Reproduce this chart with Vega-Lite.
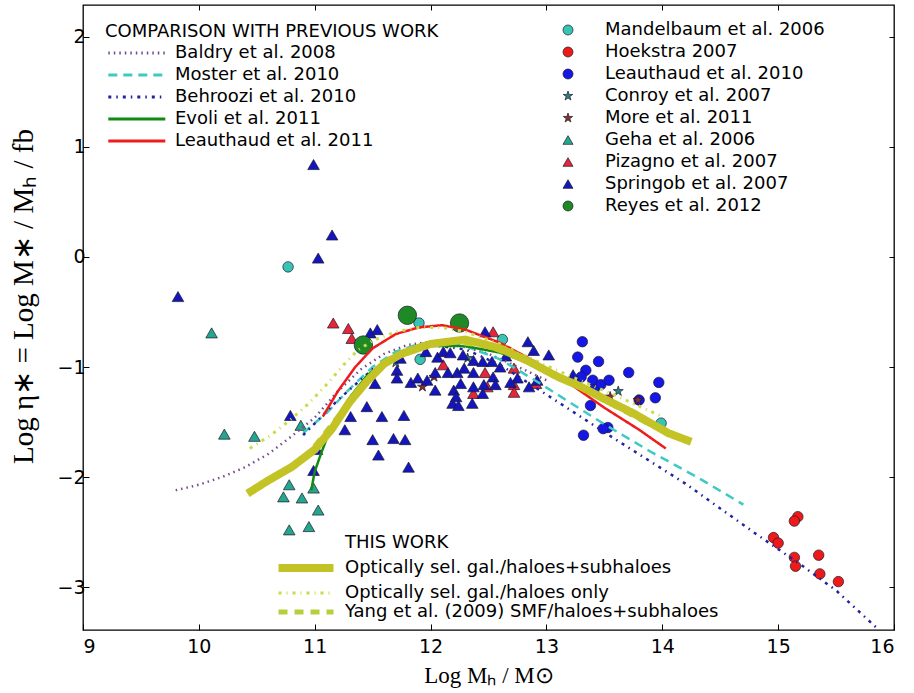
{
  "$schema": "https://vega.github.io/schema/vega-lite/v6.json",
  "autosize": {"type": "none"},
  "padding": {"left": 83, "top": 5, "right": 20, "bottom": 63},
  "width": 811,
  "height": 625,
  "background": "white",
  "config": {
    "view": {"stroke": "black", "strokeWidth": 1.3},
    "font": "DejaVu Sans",
    "axis": {"grid": false, "domain": false, "labelFont": "DejaVu Sans", "labelFontSize": 19, "labelColor": "black", "tickColor": "black", "tickSize": -6, "titleFont": "Liberation Serif", "titleFontSize": 23, "titleFontWeight": "normal", "titleColor": "black"},
    "legend": {"labelFont": "DejaVu Sans", "titleFont": "DejaVu Sans", "labelFontSize": 18, "titleFontSize": 18, "titleFontWeight": "normal", "labelColor": "black", "titleColor": "black", "labelLimit": 0, "titleLimit": 0, "padding": 0}
  },
  "datasets": {
    "comp": [
      {"s": "Baldry et al. 2008", "x": 9.8, "y": -2.12},
      {"s": "Baldry et al. 2008", "x": 10.0, "y": -2.07},
      {"s": "Baldry et al. 2008", "x": 10.2, "y": -2.0},
      {"s": "Baldry et al. 2008", "x": 10.4, "y": -1.91},
      {"s": "Baldry et al. 2008", "x": 10.6, "y": -1.79},
      {"s": "Baldry et al. 2008", "x": 10.8, "y": -1.63},
      {"s": "Baldry et al. 2008", "x": 11.0, "y": -1.46},
      {"s": "Baldry et al. 2008", "x": 11.2, "y": -1.22},
      {"s": "Baldry et al. 2008", "x": 11.4, "y": -1.02},
      {"s": "Baldry et al. 2008", "x": 11.6, "y": -0.88},
      {"s": "Baldry et al. 2008", "x": 11.8, "y": -0.8},
      {"s": "Baldry et al. 2008", "x": 12.0, "y": -0.77},
      {"s": "Baldry et al. 2008", "x": 12.2, "y": -0.79},
      {"s": "Baldry et al. 2008", "x": 12.5, "y": -0.88},
      {"s": "Baldry et al. 2008", "x": 12.8, "y": -1.02},
      {"s": "Baldry et al. 2008", "x": 13.0, "y": -1.12},
      {"s": "Moster et al. 2010", "x": 10.9, "y": -1.6},
      {"s": "Moster et al. 2010", "x": 11.1, "y": -1.42},
      {"s": "Moster et al. 2010", "x": 11.3, "y": -1.2},
      {"s": "Moster et al. 2010", "x": 11.5, "y": -1.0},
      {"s": "Moster et al. 2010", "x": 11.7, "y": -0.86},
      {"s": "Moster et al. 2010", "x": 11.9, "y": -0.79},
      {"s": "Moster et al. 2010", "x": 12.1, "y": -0.78},
      {"s": "Moster et al. 2010", "x": 12.3, "y": -0.81},
      {"s": "Moster et al. 2010", "x": 12.6, "y": -0.93},
      {"s": "Moster et al. 2010", "x": 12.9, "y": -1.12},
      {"s": "Moster et al. 2010", "x": 13.2, "y": -1.32},
      {"s": "Moster et al. 2010", "x": 13.5, "y": -1.52},
      {"s": "Moster et al. 2010", "x": 13.9, "y": -1.77},
      {"s": "Moster et al. 2010", "x": 14.3, "y": -2.0},
      {"s": "Moster et al. 2010", "x": 14.7, "y": -2.25},
      {"s": "Behroozi et al. 2010", "x": 10.9, "y": -1.62},
      {"s": "Behroozi et al. 2010", "x": 11.2, "y": -1.3},
      {"s": "Behroozi et al. 2010", "x": 11.5, "y": -1.02},
      {"s": "Behroozi et al. 2010", "x": 11.8, "y": -0.85},
      {"s": "Behroozi et al. 2010", "x": 12.0, "y": -0.8},
      {"s": "Behroozi et al. 2010", "x": 12.3, "y": -0.84},
      {"s": "Behroozi et al. 2010", "x": 12.6, "y": -0.98},
      {"s": "Behroozi et al. 2010", "x": 13.0, "y": -1.25},
      {"s": "Behroozi et al. 2010", "x": 13.6, "y": -1.66},
      {"s": "Behroozi et al. 2010", "x": 14.2, "y": -2.06},
      {"s": "Behroozi et al. 2010", "x": 14.8, "y": -2.51},
      {"s": "Behroozi et al. 2010", "x": 15.2, "y": -2.8},
      {"s": "Behroozi et al. 2010", "x": 15.5, "y": -3.03},
      {"s": "Behroozi et al. 2010", "x": 15.85, "y": -3.37},
      {"s": "Evoli et al. 2011", "x": 10.97, "y": -2.12},
      {"s": "Evoli et al. 2011", "x": 11.0, "y": -1.95},
      {"s": "Evoli et al. 2011", "x": 11.05, "y": -1.8},
      {"s": "Evoli et al. 2011", "x": 11.1, "y": -1.66},
      {"s": "Evoli et al. 2011", "x": 11.2, "y": -1.45},
      {"s": "Evoli et al. 2011", "x": 11.3, "y": -1.28},
      {"s": "Evoli et al. 2011", "x": 11.45, "y": -1.08},
      {"s": "Evoli et al. 2011", "x": 11.6, "y": -0.95},
      {"s": "Evoli et al. 2011", "x": 11.8, "y": -0.85},
      {"s": "Evoli et al. 2011", "x": 12.0, "y": -0.81},
      {"s": "Evoli et al. 2011", "x": 12.3, "y": -0.81},
      {"s": "Evoli et al. 2011", "x": 12.6, "y": -0.87},
      {"s": "Evoli et al. 2011", "x": 12.9, "y": -0.98},
      {"s": "Evoli et al. 2011", "x": 13.2, "y": -1.12},
      {"s": "Leauthaud et al. 2011", "x": 11.07, "y": -1.45},
      {"s": "Leauthaud et al. 2011", "x": 11.2, "y": -1.22},
      {"s": "Leauthaud et al. 2011", "x": 11.35, "y": -1.0},
      {"s": "Leauthaud et al. 2011", "x": 11.5, "y": -0.83},
      {"s": "Leauthaud et al. 2011", "x": 11.7, "y": -0.7},
      {"s": "Leauthaud et al. 2011", "x": 11.9, "y": -0.64},
      {"s": "Leauthaud et al. 2011", "x": 12.1, "y": -0.62},
      {"s": "Leauthaud et al. 2011", "x": 12.3, "y": -0.66},
      {"s": "Leauthaud et al. 2011", "x": 12.6, "y": -0.78},
      {"s": "Leauthaud et al. 2011", "x": 12.9, "y": -0.95},
      {"s": "Leauthaud et al. 2011", "x": 13.2, "y": -1.15},
      {"s": "Leauthaud et al. 2011", "x": 13.5, "y": -1.37},
      {"s": "Leauthaud et al. 2011", "x": 13.8, "y": -1.57},
      {"s": "Leauthaud et al. 2011", "x": 14.03, "y": -1.74}
    ],
    "mine": [
      {"s": "Optically sel. gal./haloes only", "x": 10.44, "y": -1.74},
      {"s": "Optically sel. gal./haloes only", "x": 10.62, "y": -1.62},
      {"s": "Optically sel. gal./haloes only", "x": 10.79, "y": -1.48},
      {"s": "Optically sel. gal./haloes only", "x": 10.96, "y": -1.32},
      {"s": "Optically sel. gal./haloes only", "x": 11.11, "y": -1.15},
      {"s": "Optically sel. gal./haloes only", "x": 11.25, "y": -0.98},
      {"s": "Optically sel. gal./haloes only", "x": 11.37, "y": -0.85},
      {"s": "Optically sel. gal./haloes only", "x": 11.5, "y": -0.76},
      {"s": "Optically sel. gal./haloes only", "x": 11.7, "y": -0.68},
      {"s": "Optically sel. gal./haloes only", "x": 11.9, "y": -0.64},
      {"s": "Optically sel. gal./haloes only", "x": 12.1, "y": -0.64},
      {"s": "Optically sel. gal./haloes only", "x": 12.3, "y": -0.68},
      {"s": "Optically sel. gal./haloes only", "x": 12.6, "y": -0.79},
      {"s": "Optically sel. gal./haloes only", "x": 12.9, "y": -0.94},
      {"s": "Optically sel. gal./haloes only", "x": 13.2, "y": -1.08},
      {"s": "Optically sel. gal./haloes only", "x": 13.6, "y": -1.26},
      {"s": "Optically sel. gal./haloes only", "x": 14.0, "y": -1.45},
      {"s": "Yang et al. (2009) SMF/haloes+subhaloes", "x": 11.0, "y": -1.72},
      {"s": "Yang et al. (2009) SMF/haloes+subhaloes", "x": 11.3, "y": -1.32},
      {"s": "Yang et al. (2009) SMF/haloes+subhaloes", "x": 11.6, "y": -0.97},
      {"s": "Yang et al. (2009) SMF/haloes+subhaloes", "x": 11.9, "y": -0.81},
      {"s": "Yang et al. (2009) SMF/haloes+subhaloes", "x": 12.2, "y": -0.77},
      {"s": "Yang et al. (2009) SMF/haloes+subhaloes", "x": 12.5, "y": -0.81},
      {"s": "Yang et al. (2009) SMF/haloes+subhaloes", "x": 12.8, "y": -0.93},
      {"s": "Yang et al. (2009) SMF/haloes+subhaloes", "x": 13.2, "y": -1.13},
      {"s": "Yang et al. (2009) SMF/haloes+subhaloes", "x": 13.6, "y": -1.36},
      {"s": "Yang et al. (2009) SMF/haloes+subhaloes", "x": 14.0, "y": -1.58},
      {"s": "Optically sel. gal./haloes+subhaloes", "x": 10.42, "y": -2.15},
      {"s": "Optically sel. gal./haloes+subhaloes", "x": 10.6, "y": -2.03},
      {"s": "Optically sel. gal./haloes+subhaloes", "x": 10.8, "y": -1.91},
      {"s": "Optically sel. gal./haloes+subhaloes", "x": 11.0, "y": -1.75},
      {"s": "Optically sel. gal./haloes+subhaloes", "x": 11.15, "y": -1.56},
      {"s": "Optically sel. gal./haloes+subhaloes", "x": 11.3, "y": -1.32},
      {"s": "Optically sel. gal./haloes+subhaloes", "x": 11.45, "y": -1.13},
      {"s": "Optically sel. gal./haloes+subhaloes", "x": 11.6, "y": -0.97},
      {"s": "Optically sel. gal./haloes+subhaloes", "x": 11.75, "y": -0.88},
      {"s": "Optically sel. gal./haloes+subhaloes", "x": 12.0, "y": -0.79},
      {"s": "Optically sel. gal./haloes+subhaloes", "x": 12.3, "y": -0.75},
      {"s": "Optically sel. gal./haloes+subhaloes", "x": 12.6, "y": -0.83},
      {"s": "Optically sel. gal./haloes+subhaloes", "x": 12.85, "y": -0.95},
      {"s": "Optically sel. gal./haloes+subhaloes", "x": 13.1, "y": -1.09},
      {"s": "Optically sel. gal./haloes+subhaloes", "x": 13.3, "y": -1.18},
      {"s": "Optically sel. gal./haloes+subhaloes", "x": 13.5, "y": -1.29},
      {"s": "Optically sel. gal./haloes+subhaloes", "x": 13.75, "y": -1.42},
      {"s": "Optically sel. gal./haloes+subhaloes", "x": 14.05, "y": -1.6},
      {"s": "Optically sel. gal./haloes+subhaloes", "x": 14.25, "y": -1.68}
    ],
    "pts": [
      {"s": "Mandelbaum et al. 2006", "x": 10.77, "y": -0.09},
      {"s": "Mandelbaum et al. 2006", "x": 11.9, "y": -0.6},
      {"s": "Mandelbaum et al. 2006", "x": 11.91, "y": -0.93},
      {"s": "Mandelbaum et al. 2006", "x": 12.62, "y": -0.75},
      {"s": "Mandelbaum et al. 2006", "x": 13.99, "y": -1.51},
      {"s": "Hoekstra 2007", "x": 15.17, "y": -2.36},
      {"s": "Hoekstra 2007", "x": 15.14, "y": -2.4},
      {"s": "Hoekstra 2007", "x": 14.96, "y": -2.55},
      {"s": "Hoekstra 2007", "x": 15.0, "y": -2.6},
      {"s": "Hoekstra 2007", "x": 15.14, "y": -2.73},
      {"s": "Hoekstra 2007", "x": 15.15, "y": -2.81},
      {"s": "Hoekstra 2007", "x": 15.35, "y": -2.71},
      {"s": "Hoekstra 2007", "x": 15.36, "y": -2.88},
      {"s": "Hoekstra 2007", "x": 15.52, "y": -2.95},
      {"s": "Leauthaud et al. 2010", "x": 13.31, "y": -0.77},
      {"s": "Leauthaud et al. 2010", "x": 13.27, "y": -0.91},
      {"s": "Leauthaud et al. 2010", "x": 13.45, "y": -0.95},
      {"s": "Leauthaud et al. 2010", "x": 13.34, "y": -1.03},
      {"s": "Leauthaud et al. 2010", "x": 13.3, "y": -1.09},
      {"s": "Leauthaud et al. 2010", "x": 13.4, "y": -1.12},
      {"s": "Leauthaud et al. 2010", "x": 13.47, "y": -1.16},
      {"s": "Leauthaud et al. 2010", "x": 13.54, "y": -1.12},
      {"s": "Leauthaud et al. 2010", "x": 13.71, "y": -1.05},
      {"s": "Leauthaud et al. 2010", "x": 13.97, "y": -1.14},
      {"s": "Leauthaud et al. 2010", "x": 13.94, "y": -1.28},
      {"s": "Leauthaud et al. 2010", "x": 13.8, "y": -1.3},
      {"s": "Leauthaud et al. 2010", "x": 13.38, "y": -1.35},
      {"s": "Leauthaud et al. 2010", "x": 13.53, "y": -1.55},
      {"s": "Leauthaud et al. 2010", "x": 13.49, "y": -1.56},
      {"s": "Leauthaud et al. 2010", "x": 13.32, "y": -1.62},
      {"s": "Leauthaud et al. 2010", "x": 13.41, "y": -1.21},
      {"s": "Conroy et al. 2007", "x": 11.7, "y": -0.96},
      {"s": "Conroy et al. 2007", "x": 12.32, "y": -0.92},
      {"s": "Conroy et al. 2007", "x": 13.62, "y": -1.22},
      {"s": "More et al. 2011", "x": 11.93, "y": -1.18},
      {"s": "More et al. 2011", "x": 12.03, "y": -1.09},
      {"s": "More et al. 2011", "x": 13.79, "y": -1.3},
      {"s": "More et al. 2011", "x": 13.55, "y": -1.27},
      {"s": "Geha et al. 2006", "x": 10.11, "y": -0.69},
      {"s": "Geha et al. 2006", "x": 10.22, "y": -1.61},
      {"s": "Geha et al. 2006", "x": 10.48, "y": -1.63},
      {"s": "Geha et al. 2006", "x": 10.88, "y": -1.53},
      {"s": "Geha et al. 2006", "x": 10.78, "y": -2.07},
      {"s": "Geha et al. 2006", "x": 10.73, "y": -2.18},
      {"s": "Geha et al. 2006", "x": 10.89, "y": -2.19},
      {"s": "Geha et al. 2006", "x": 11.03, "y": -2.3},
      {"s": "Geha et al. 2006", "x": 10.78, "y": -2.48},
      {"s": "Geha et al. 2006", "x": 10.95, "y": -2.45},
      {"s": "Geha et al. 2006", "x": 10.99, "y": -2.1},
      {"s": "Pizagno et al. 2007", "x": 11.16, "y": -0.6},
      {"s": "Pizagno et al. 2007", "x": 11.29, "y": -0.65},
      {"s": "Pizagno et al. 2007", "x": 11.32, "y": -0.74},
      {"s": "Pizagno et al. 2007", "x": 12.11, "y": -0.98},
      {"s": "Pizagno et al. 2007", "x": 12.47, "y": -1.05},
      {"s": "Pizagno et al. 2007", "x": 12.54, "y": -0.68},
      {"s": "Pizagno et al. 2007", "x": 12.72, "y": -1.01},
      {"s": "Pizagno et al. 2007", "x": 12.72, "y": -1.16},
      {"s": "Pizagno et al. 2007", "x": 12.72, "y": -1.23},
      {"s": "Pizagno et al. 2007", "x": 12.91, "y": -1.15},
      {"s": "Pizagno et al. 2007", "x": 12.37, "y": -1.24},
      {"s": "Pizagno et al. 2007", "x": 12.49, "y": -1.18},
      {"s": "Springob et al. 2007", "x": 9.82, "y": -0.36},
      {"s": "Springob et al. 2007", "x": 10.99, "y": 0.84},
      {"s": "Springob et al. 2007", "x": 11.03, "y": -0.01},
      {"s": "Springob et al. 2007", "x": 11.15, "y": 0.2},
      {"s": "Springob et al. 2007", "x": 10.79, "y": -1.44},
      {"s": "Springob et al. 2007", "x": 11.02, "y": -1.75},
      {"s": "Springob et al. 2007", "x": 10.99, "y": -1.94},
      {"s": "Springob et al. 2007", "x": 11.31, "y": -1.45},
      {"s": "Springob et al. 2007", "x": 11.26, "y": -1.57},
      {"s": "Springob et al. 2007", "x": 11.45, "y": -1.36},
      {"s": "Springob et al. 2007", "x": 11.58, "y": -1.45},
      {"s": "Springob et al. 2007", "x": 11.77, "y": -1.44},
      {"s": "Springob et al. 2007", "x": 11.5, "y": -1.66},
      {"s": "Springob et al. 2007", "x": 11.68, "y": -1.65},
      {"s": "Springob et al. 2007", "x": 11.78, "y": -1.66},
      {"s": "Springob et al. 2007", "x": 11.55, "y": -1.8},
      {"s": "Springob et al. 2007", "x": 11.81, "y": -1.91},
      {"s": "Springob et al. 2007", "x": 11.48, "y": -0.69},
      {"s": "Springob et al. 2007", "x": 11.54, "y": -0.66},
      {"s": "Springob et al. 2007", "x": 11.74, "y": -0.92},
      {"s": "Springob et al. 2007", "x": 11.96, "y": -0.86},
      {"s": "Springob et al. 2007", "x": 11.71, "y": -1.03},
      {"s": "Springob et al. 2007", "x": 11.71, "y": -1.1},
      {"s": "Springob et al. 2007", "x": 11.52, "y": -1.15},
      {"s": "Springob et al. 2007", "x": 11.83, "y": -1.14},
      {"s": "Springob et al. 2007", "x": 11.89, "y": -1.1},
      {"s": "Springob et al. 2007", "x": 11.97, "y": -1.12},
      {"s": "Springob et al. 2007", "x": 12.04, "y": -1.05},
      {"s": "Springob et al. 2007", "x": 12.04, "y": -1.21},
      {"s": "Springob et al. 2007", "x": 12.06, "y": -0.91},
      {"s": "Springob et al. 2007", "x": 12.11, "y": -0.86},
      {"s": "Springob et al. 2007", "x": 12.17, "y": -0.87},
      {"s": "Springob et al. 2007", "x": 12.28, "y": -0.89},
      {"s": "Springob et al. 2007", "x": 12.37, "y": -0.94},
      {"s": "Springob et al. 2007", "x": 12.45, "y": -0.95},
      {"s": "Springob et al. 2007", "x": 12.53, "y": -0.95},
      {"s": "Springob et al. 2007", "x": 12.15, "y": -1.05},
      {"s": "Springob et al. 2007", "x": 12.23, "y": -1.05},
      {"s": "Springob et al. 2007", "x": 12.29, "y": -1.01},
      {"s": "Springob et al. 2007", "x": 12.37, "y": -1.05},
      {"s": "Springob et al. 2007", "x": 12.26, "y": -1.15},
      {"s": "Springob et al. 2007", "x": 12.2, "y": -1.21},
      {"s": "Springob et al. 2007", "x": 12.22, "y": -1.27},
      {"s": "Springob et al. 2007", "x": 12.19, "y": -1.33},
      {"s": "Springob et al. 2007", "x": 12.24, "y": -1.35},
      {"s": "Springob et al. 2007", "x": 12.36, "y": -1.33},
      {"s": "Springob et al. 2007", "x": 12.37, "y": -1.18},
      {"s": "Springob et al. 2007", "x": 12.45, "y": -1.24},
      {"s": "Springob et al. 2007", "x": 12.46, "y": -1.16},
      {"s": "Springob et al. 2007", "x": 12.54, "y": -1.09},
      {"s": "Springob et al. 2007", "x": 12.56, "y": -1.16},
      {"s": "Springob et al. 2007", "x": 12.47, "y": -0.68},
      {"s": "Springob et al. 2007", "x": 12.84, "y": -0.77},
      {"s": "Springob et al. 2007", "x": 12.89, "y": -0.85},
      {"s": "Springob et al. 2007", "x": 13.02, "y": -0.89},
      {"s": "Springob et al. 2007", "x": 12.75, "y": -1.1},
      {"s": "Springob et al. 2007", "x": 12.85, "y": -1.18},
      {"s": "Springob et al. 2007", "x": 12.92, "y": -1.12},
      {"s": "Springob et al. 2007", "x": 12.69, "y": -1.14},
      {"s": "Springob et al. 2007", "x": 13.23, "y": -1.07},
      {"s": "Springob et al. 2007", "x": 12.6, "y": -1.0},
      {"s": "Springob et al. 2007", "x": 12.65, "y": -0.9},
      {"s": "Reyes et al. 2012", "x": 11.42, "y": -0.8},
      {"s": "Reyes et al. 2012", "x": 11.8, "y": -0.53},
      {"s": "Reyes et al. 2012", "x": 12.25, "y": -0.6}
    ]
  },
  "layer": [
    {
      "data": {"name": "pts"},
      "mark": {"type": "point", "filled": true, "opacity": 1, "stroke": "#1a1a2a", "strokeWidth": 0.7},
      "encoding": {
        "x": {"field": "x", "type": "quantitative", "scale": {"domain": [9, 16], "nice": false, "zero": false}, "axis": {"orient": "top", "labels": false, "title": null, "values": [10, 11, 12, 13, 14, 15], "tickSize": -5}},
        "y": {"field": "y", "type": "quantitative", "scale": {"domain": [-3.39, 2.29], "nice": false, "zero": false}, "axis": null},
        "color": {"field": "s", "type": "nominal", "scale": {"domain": ["Mandelbaum et al. 2006", "Hoekstra 2007", "Leauthaud et al. 2010", "Conroy et al. 2007", "More et al. 2011", "Geha et al. 2006", "Pizagno et al. 2007", "Springob et al. 2007", "Reyes et al. 2012"], "range": ["#38c4b4", "#ee1a1a", "#1616e6", "#2e7f86", "#8e2e2e", "#26a68f", "#e5253a", "#1515c0", "#1f8a25"]},
          "legend": {"title": null, "orient": "none", "legendX": 476, "legendY": 16, "rowPadding": 4, "labelOffset": 28, "symbolStrokeColor": "#1a1a2a", "symbolStrokeWidth": 0.7,
            "encode": {"symbols": {"update": {"size": {"signal": "datum.label === 'Reyes et al. 2012' ? 340 : (indexof(['Geha et al. 2006', 'Pizagno et al. 2007', 'Springob et al. 2007'], datum.label) >= 0 ? 110 : 90)"}}}}}},
        "shape": {"field": "s", "type": "nominal", "scale": {"domain": ["Mandelbaum et al. 2006", "Hoekstra 2007", "Leauthaud et al. 2010", "Conroy et al. 2007", "More et al. 2011", "Geha et al. 2006", "Pizagno et al. 2007", "Springob et al. 2007", "Reyes et al. 2012"], "range": ["circle", "circle", "circle", "M0,-1L0.2245,-0.309L0.951,-0.309L0.363,0.118L0.588,0.809L0,0.382L-0.588,0.809L-0.363,0.118L-0.951,-0.309L-0.2245,-0.309Z", "M0,-1L0.2245,-0.309L0.951,-0.309L0.363,0.118L0.588,0.809L0,0.382L-0.588,0.809L-0.363,0.118L-0.951,-0.309L-0.2245,-0.309Z", "triangle-up", "triangle-up", "triangle-up", "circle"]}},
        "size": {"condition": [{"test": "datum.s === 'Reyes et al. 2012'", "value": 340}, {"test": "indexof(['Geha et al. 2006', 'Pizagno et al. 2007', 'Springob et al. 2007'], datum.s) >= 0", "value": 135}], "value": 110}
      }
    },
    {
      "data": {"name": "comp"},
      "mark": {"type": "line", "strokeWidth": 2.5},
      "encoding": {
        "x": {"field": "x", "type": "quantitative", "scale": {"domain": [9, 16], "nice": false, "zero": false}, "axis": {"orient": "bottom", "values": [9, 10, 11, 12, 13, 14, 15, 16], "labelPadding": 13, "title": "Log Mₕ / M⊙", "titlePadding": 8}},
        "y": {"field": "y", "type": "quantitative", "scale": {"domain": [-3.39, 2.29], "nice": false, "zero": false}, "axis": {"orient": "left", "values": [-3, -2, -1, 0, 1, 2], "labelPadding": 4, "title": "Log η∗ = Log M∗ / Mₕ / fb", "titleFontSize": 29, "titleX": -45, "titleY": 291}},
        "color": {"field": "s", "type": "nominal", "scale": {"domain": ["Baldry et al. 2008", "Moster et al. 2010", "Behroozi et al. 2010", "Evoli et al. 2011", "Leauthaud et al. 2011"], "range": ["#7b4a8c", "#3ec9c3", "#2222a0", "#128a12", "#ee1c1c"]},
          "legend": {"title": "COMPARISON WITH PREVIOUS WORK", "orient": "none", "legendX": 22, "legendY": 18, "symbolType": "M-1,0H9", "symbolSize": 130, "symbolStrokeWidth": 3, "rowPadding": 4, "labelOffset": 52, "titlePadding": 3}},
        "strokeDash": {"field": "s", "type": "nominal", "scale": {"domain": ["Baldry et al. 2008", "Moster et al. 2010", "Behroozi et al. 2010", "Evoli et al. 2011", "Leauthaud et al. 2011"], "range": [[1.5, 4], [9, 6], [3, 5, 1.5, 5], [1, 0], [1, 0]]}}
      }
    },
    {
      "data": {"name": "mine"},
      "mark": {"type": "line"},
      "encoding": {
        "x": {"field": "x", "type": "quantitative", "scale": {"domain": [9, 16], "nice": false, "zero": false}, "axis": null},
        "y": {"field": "y", "type": "quantitative", "scale": {"domain": [-3.39, 2.29], "nice": false, "zero": false}, "axis": null},
        "color": {"field": "s", "type": "nominal", "scale": {"domain": ["THIS WORK", "Optically sel. gal./haloes+subhaloes", "Optically sel. gal./haloes only", "Yang et al. (2009) SMF/haloes+subhaloes"], "range": ["rgba(0,0,0,0)", "#c3c325", "#c8dc4a", "#b5d03a"]},
          "legend": {"title": null, "orient": "none", "legendX": 192, "legendY": 529, "symbolType": "M-1,0H9", "symbolSize": 121, "rowPadding": 0, "labelOffset": 52,
            "encode": {"symbols": {"update": {"strokeWidth": {"signal": "datum.label === 'Optically sel. gal./haloes+subhaloes' ? 8 : (datum.label === 'Yang et al. (2009) SMF/haloes+subhaloes' ? 5 : 3)"}}}}}},
        "strokeDash": {"field": "s", "type": "nominal", "scale": {"domain": ["THIS WORK", "Optically sel. gal./haloes+subhaloes", "Optically sel. gal./haloes only", "Yang et al. (2009) SMF/haloes+subhaloes"], "range": [[1, 0], [1, 0], [3, 5, 1, 5], [9, 7]]}},
        "strokeWidth": {"condition": [{"test": "datum.s === 'Optically sel. gal./haloes+subhaloes'", "value": 8}, {"test": "datum.s === 'Yang et al. (2009) SMF/haloes+subhaloes'", "value": 5}], "value": 3}
      }
    },
    {
      "mark": {"type": "rule", "color": "black", "strokeWidth": 1, "strokeDash": [7, 3, 2, 3]},
      "encoding": {
        "y": {"datum": 0, "type": "quantitative", "scale": {"domain": [-3.39, 2.29], "nice": false, "zero": false}, "axis": {"orient": "right", "labels": false, "title": null, "values": [-3, -2, -1, 0, 1, 2], "tickSize": -5}}
      }
    }
  ],
  "resolve": {
    "scale": {"color": "independent", "strokeDash": "independent", "shape": "independent"},
    "axis": {"x": "independent", "y": "independent"}
  }
}
